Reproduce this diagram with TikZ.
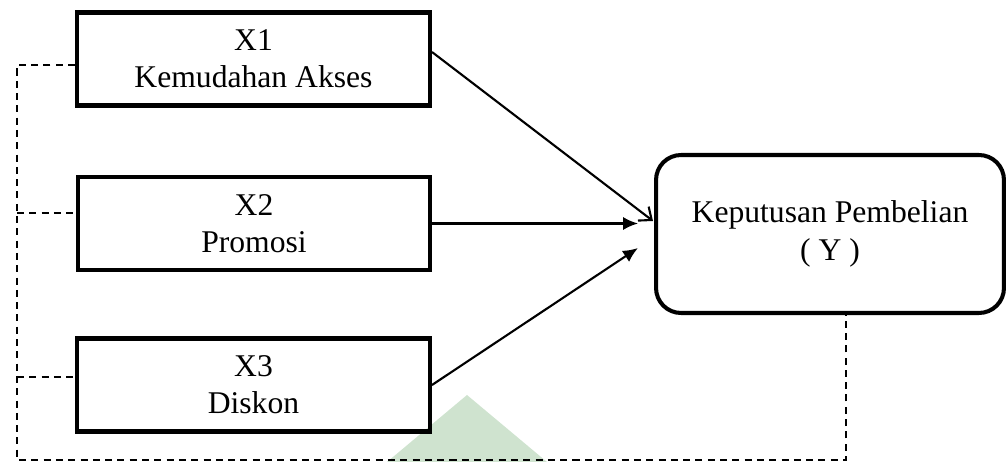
\documentclass[tikz,border=0pt]{standalone}
\usepackage{fontspec}
\setmainfont{Liberation Serif}
\usetikzlibrary{arrows.meta}
\definecolor{watermark}{RGB}{207,227,207}

\begin{document}
\begin{tikzpicture}[x=0.02cm, y=-0.02cm,
    varbox/.style={draw=black, line width=2.3pt, minimum width=7.06cm, minimum height=1.86cm, inner sep=0pt, align=center, font=\fontsize{18}{21}\selectfont},
    ybox/.style={varbox, rounded corners=0.5cm, minimum width=6.96cm, minimum height=3.16cm, font=\fontsize{18}{22}\selectfont},
    dashln/.style={black, line width=1pt, dash pattern=on 4pt off 3pt},
    arrowln/.style={black, line width=1.2pt}]
    \useasboundingbox (0,0) rectangle (1008,462);

    % Marca de agua
    \fill[watermark] (387,462) -- (467,395) -- (547,462) -- cycle;

    % Cajas
    \node[varbox] (X1) at (253.5,59) {X1\\Kemudahan Akses};
    \node[varbox] (X2) at (254,223.5) {X2\\Promosi};
    \node[varbox] (X3) at (253.5,385) {X3\\Diskon};
    \node[ybox] (Y) at (830,234) {\rule{0pt}{10pt}Keputusan Pembelian\\( Y )};

    % Puntas de flecha
    \coordinate (t1) at (653,221);
    \coordinate (t2) at (638,223.5);
    \coordinate (t3) at (638,248);

    % Flechas
    \draw[arrowln, -{Straight Barb[length=6pt,width=10pt]}] ([yshift=0.14cm]X1.east) -- (t1);
    \draw[arrowln, -{Latex[length=8.5pt,width=7.5pt]}] (X2.east) -- (t2);
    \draw[arrowln, -{Latex[length=8.5pt,width=7.5pt]}] (X3.east) -- (t3);

    % Lineas discontinuas
    \coordinate (d1) at (17,65);
    \coordinate (d2) at (17,213);
    \coordinate (d3) at (17,377);
    \coordinate (d4) at (17,460);
    \coordinate (d5) at (846,460);
    \draw[dashln] (d1 -| X1.west) -- (d1) -- (d4) -- (d5) -- (d5 |- Y.south);
    \draw[dashln] (d2) -- (d2 -| X2.west);
    \draw[dashln] (d3) -- (d3 -| X3.west);
\end{tikzpicture}
\end{document}
